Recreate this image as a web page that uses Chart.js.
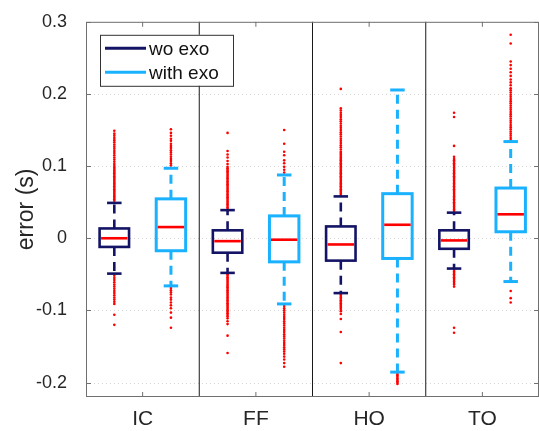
<!DOCTYPE html>
<html>
<head>
<meta charset="utf-8">
<script src="https://cdn.jsdelivr.net/npm/chart.js@4.4.1/dist/chart.umd.min.js"></script>
<style>
  html, body { margin: 0; padding: 0; background: #fff; overflow: hidden; }
  #wrap { width: 543px; height: 431px; }
</style>
</head>
<body>
<div id="wrap"><canvas id="chart" width="543" height="431"></canvas></div>
<script>
const categories = ['IC', 'FF', 'HO', 'TO'];
const seriesNames = ['wo exo', 'with exo'];
const seriesColors = ['#141466', '#1ab2ff'];
const yTicks = [-0.2, -0.1, 0, 0.1, 0.2, 0.3];
const xTicks = [1, 2, 3, 4];
const groupEdges = [1.5, 2.5, 3.5];

// box statistics, one value per category
const woLowWhisker = [-0.049, -0.048, -0.076, -0.042];
const woQ1 = [-0.012, -0.020, -0.031, -0.0146];
const woMedian = [0.000, -0.004, -0.0086, -0.003];
const woQ3 = [0.0136, 0.011, 0.0164, 0.011];
const woHighWhisker = [0.049, 0.039, 0.058, 0.0355];

const withLowWhisker = [-0.066, -0.091, -0.1855, -0.060];
const withQ1 = [-0.0173, -0.0327, -0.028, 0.009];
const withMedian = [0.0155, -0.002, 0.0187, 0.0332];
const withQ3 = [0.0546, 0.031, 0.0618, 0.0696];
const withHighWhisker = [0.097, 0.0877, 0.2055, 0.134];

// outliers (red dots)
const woOutIC = [0.052, 0.054, 0.056, 0.058, 0.060, 0.062, 0.064, 0.066, 0.068, 0.070, 0.072, 0.074, 0.076, 0.078, 0.080,
  0.082, 0.084, 0.086, 0.088, 0.090, 0.092, 0.094, 0.096, 0.098, 0.100, 0.103, 0.106, 0.109, 0.112, 0.115, 0.118, 0.121,
  0.124, 0.127, 0.130, 0.133, 0.136, 0.139, 0.142, 0.145, 0.149,
  -0.052, -0.055, -0.058, -0.061, -0.064, -0.067, -0.070, -0.073, -0.076, -0.079, -0.082, -0.085, -0.088, -0.091, -0.106, -0.120];
const withOutIC = [0.101, 0.104, 0.107, 0.110, 0.113, 0.116, 0.119, 0.122, 0.125, 0.128, 0.131, 0.135, 0.138, 0.142, 0.146, 0.151,
  -0.069, -0.072, -0.075, -0.078, -0.082, -0.085, -0.089, -0.093, -0.097, -0.103, -0.110, -0.124];
const woOutFF = [0.041, 0.043, 0.045, 0.047, 0.049, 0.051, 0.053, 0.055, 0.057, 0.059, 0.061, 0.063, 0.065, 0.067, 0.069, 0.071,
  0.073, 0.075, 0.077, 0.079, 0.081, 0.083, 0.085, 0.087, 0.089, 0.091, 0.093, 0.095, 0.097, 0.099, 0.103, 0.107, 0.112, 0.116,
  0.121, 0.146,
  -0.050, -0.052, -0.054, -0.056, -0.058, -0.060, -0.062, -0.064, -0.066, -0.068, -0.070, -0.072, -0.074, -0.076, -0.078, -0.080,
  -0.082, -0.084, -0.086, -0.088, -0.090, -0.092, -0.094, -0.096, -0.098, -0.100, -0.102, -0.104, -0.106, -0.108, -0.111, -0.115,
  -0.119, -0.135, -0.159];
const withOutFF = [0.091, 0.095, 0.099, 0.104, 0.108, 0.115, 0.120, 0.131, 0.150,
  -0.094, -0.097, -0.100, -0.103, -0.106, -0.109, -0.112, -0.115, -0.118, -0.121, -0.124, -0.127, -0.130, -0.133, -0.136, -0.139,
  -0.142, -0.145, -0.148, -0.151, -0.154, -0.157, -0.160, -0.164, -0.168, -0.173, -0.178];
const woOutHO = [0.060, 0.062, 0.064, 0.066, 0.068, 0.070, 0.072, 0.074, 0.076, 0.078, 0.080, 0.082, 0.084, 0.086, 0.088, 0.090,
  0.092, 0.094, 0.096, 0.098, 0.100, 0.102, 0.104, 0.106, 0.108, 0.110, 0.112, 0.114, 0.116, 0.118, 0.120, 0.123, 0.126, 0.129,
  0.132, 0.135, 0.138, 0.141, 0.144, 0.147, 0.150, 0.153, 0.156, 0.159, 0.162, 0.165, 0.168, 0.171, 0.174, 0.177, 0.180, 0.207,
  -0.078, -0.080, -0.082, -0.084, -0.086, -0.088, -0.090, -0.092, -0.094, -0.096, -0.098, -0.101, -0.105, -0.112, -0.130, -0.173];
const withOutHO = [-0.188, -0.190, -0.192, -0.194, -0.196, -0.198, -0.200, -0.202];
const woOutTO = [0.038, 0.040, 0.042, 0.044, 0.046, 0.048, 0.050, 0.052, 0.054, 0.056, 0.058, 0.060, 0.062, 0.064, 0.066, 0.068,
  0.070, 0.072, 0.074, 0.076, 0.078, 0.080, 0.082, 0.084, 0.086, 0.088, 0.090, 0.092, 0.094, 0.096, 0.098, 0.100, 0.102, 0.104,
  0.106, 0.108, 0.110, 0.113, 0.128, 0.168, 0.174,
  -0.044, -0.046, -0.048, -0.050, -0.052, -0.054, -0.056, -0.058, -0.060, -0.062, -0.064, -0.067, -0.124, -0.131];
const withOutTO = [0.136, 0.139, 0.142, 0.145, 0.148, 0.151, 0.154, 0.157, 0.160, 0.163, 0.166, 0.169, 0.172, 0.175, 0.178, 0.181,
  0.184, 0.187, 0.190, 0.193, 0.196, 0.199, 0.202, 0.205, 0.208, 0.212, 0.216, 0.220, 0.225, 0.230, 0.235, 0.240, 0.245, 0.270, 0.282,
  -0.073, -0.083, -0.089];

const stats = [
  [woLowWhisker, woQ1, woMedian, woQ3, woHighWhisker],
  [withLowWhisker, withQ1, withMedian, withQ3, withHighWhisker]
];
const outliers = [
  [woOutIC, woOutFF, woOutHO, woOutTO],
  [withOutIC, withOutFF, withOutHO, withOutTO]
];

const boxOffsets = [-0.25, 0.25];
const boxHalf = 0.13;
const capHalf = 0.064;
const fontFamily = "'Liberation Sans', Arial, Helvetica, sans-serif";

const datasets = [];
outliers.forEach((series, s) => {
  series.forEach((list, i) => {
    datasets.push({
      label: seriesNames[s] + ' ' + categories[i],
      data: list.map(v => ({ x: xTicks[i] + boxOffsets[s], y: v })),
      pointRadius: 1.3,
      pointBackgroundColor: '#ff0000',
      pointBorderWidth: 0,
      showLine: false
    });
  });
});

function hline(ctx, x0, x1, y) {
  ctx.beginPath(); ctx.moveTo(x0, y); ctx.lineTo(x1, y); ctx.stroke();
}
function vline(ctx, x, y0, y1) {
  ctx.beginPath(); ctx.moveTo(x, y0); ctx.lineTo(x, y1); ctx.stroke();
}

const boxPlugin = {
  id: 'boxes',
  beforeDatasetsDraw(chart) {
    const { ctx, chartArea: a, scales: { x, y } } = chart;
    ctx.save();
    ctx.strokeStyle = '#d6d6d6';
    ctx.lineWidth = 1;
    ctx.setLineDash([1, 3]);
    yTicks.forEach(t => hline(ctx, a.left, a.right, Math.round(y.getPixelForValue(t)) + 0.5));
    ctx.setLineDash([]);
    ctx.strokeStyle = '#1a1a1a';
    groupEdges.forEach(g => vline(ctx, x.getPixelForValue(g), a.top, a.bottom));
    ctx.restore();
  },
  afterDatasetsDraw(chart) {
    const { ctx, chartArea: a, scales: { x, y } } = chart;
    const unit = x.getPixelForValue(2) - x.getPixelForValue(1);
    ctx.save();
    stats.forEach((st, s) => {
      const [lo, q1, med, q3, hi] = st;
      ctx.strokeStyle = seriesColors[s];
      ctx.lineWidth = s === 0 ? 2.6 : 3;
      categories.forEach((c, i) => {
        const cx = x.getPixelForValue(xTicks[i] + boxOffsets[s]);
        const hw = boxHalf * unit, cw = capHalf * unit;
        const pLo = y.getPixelForValue(lo[i]), pQ1 = y.getPixelForValue(q1[i]);
        const pQ3 = y.getPixelForValue(q3[i]), pHi = y.getPixelForValue(hi[i]);
        // whiskers
        ctx.setLineDash([9, 6]);
        vline(ctx, cx, pQ3, pHi);
        vline(ctx, cx, pQ1, pLo);
        ctx.setLineDash([]);
        hline(ctx, cx - cw, cx + cw, pHi);
        hline(ctx, cx - cw, cx + cw, pLo);
        // box
        ctx.strokeRect(cx - hw, pQ3, 2 * hw, pQ1 - pQ3);
      });
    });
    // medians
    ctx.strokeStyle = '#ff0000';
    ctx.lineWidth = 2.6;
    stats.forEach((st, s) => {
      categories.forEach((c, i) => {
        const cx = x.getPixelForValue(xTicks[i] + boxOffsets[s]);
        const hw = boxHalf * unit;
        hline(ctx, cx - hw + 1.5, cx + hw - 1.5, y.getPixelForValue(st[2][i]));
      });
    });
    // axes box and inward ticks
    ctx.strokeStyle = '#707070';
    ctx.lineWidth = 1;
    ctx.strokeRect(a.left + 0.5, a.top + 0.5, a.right - a.left - 1, a.bottom - a.top - 1);
    xTicks.forEach(t => {
      const px = x.getPixelForValue(t);
      vline(ctx, px, a.top, a.top + 5);
      vline(ctx, px, a.bottom, a.bottom - 5);
    });
    yTicks.forEach(t => {
      const py = Math.round(y.getPixelForValue(t)) + 0.5;
      hline(ctx, a.left, a.left + 5, py);
      hline(ctx, a.right - 5, a.right, py);
    });
    // legend
    const lx = a.left + 14, ly = a.top + 13;
    ctx.fillStyle = '#ffffff';
    ctx.fillRect(lx, ly, 133, 51);
    ctx.strokeStyle = '#333333';
    ctx.strokeRect(lx + 0.5, ly + 0.5, 133, 51);
    ctx.font = '19px ' + fontFamily;
    ctx.textBaseline = 'middle';
    ctx.textAlign = 'left';
    seriesNames.forEach((name, s) => {
      const yy = ly + 13.5 + s * 24;
      ctx.strokeStyle = seriesColors[s];
      ctx.lineWidth = 3;
      hline(ctx, lx + 5, lx + 46, yy);
      ctx.fillStyle = '#111111';
      ctx.fillText(name, lx + 49, yy + 1);
    });
    ctx.restore();
  }
};

new Chart(document.getElementById('chart'), {
  type: 'scatter',
  data: { datasets },
  options: {
    responsive: false,
    animation: false,
    events: [],
    layout: { padding: { top: 16, right: 2, left: 0, bottom: 0 } },
    plugins: { legend: { display: false }, tooltip: { enabled: false } },
    scales: {
      x: {
        type: 'linear',
        min: 0.5,
        max: 4.5,
        afterBuildTicks: s => { s.ticks = xTicks.map(v => ({ value: v })); },
        afterFit: s => { s.height = 34; },
        grid: { display: false },
        border: { display: false },
        ticks: {
          autoSkip: false,
          maxRotation: 0,
          padding: 2,
          color: '#262626',
          font: { family: fontFamily, size: 21 },
          callback: v => categories[v - 1]
        }
      },
      y: {
        min: -0.22,
        max: 0.3,
        afterBuildTicks: s => { s.ticks = yTicks.map(v => ({ value: v })); },
        afterFit: s => { s.width = 86; },
        grid: { display: false },
        border: { display: false },
        title: {
          display: true,
          text: 'error (s)',
          color: '#262626',
          font: { family: fontFamily, size: 23 },
          padding: { top: 13, bottom: 0 }
        },
        ticks: {
          padding: 11,
          color: '#262626',
          font: { family: fontFamily, size: 18 },
          callback: v => (v === 0 ? '0' : v.toFixed(1))
        }
      }
    }
  },
  plugins: [boxPlugin]
});
</script>
</body>
</html>
